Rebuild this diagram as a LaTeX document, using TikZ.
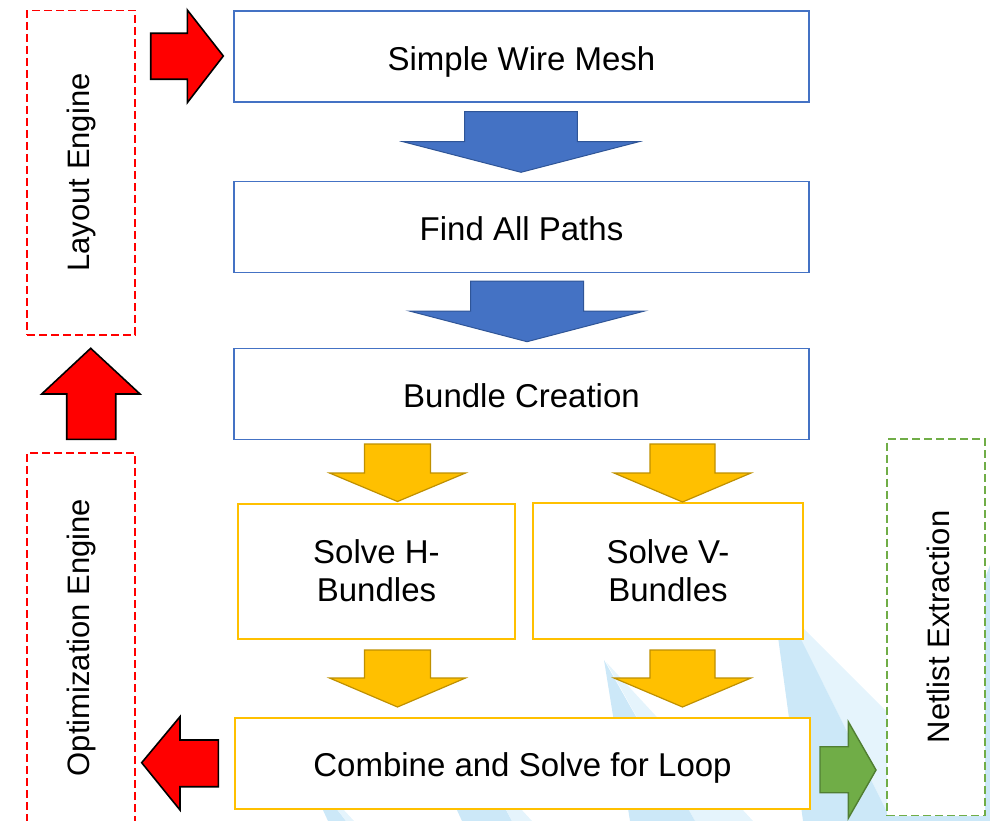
\documentclass[tikz,border=0pt]{standalone}
\usepackage{fontspec}
\setmainfont{Liberation Sans}

\definecolor{boxblue}{HTML}{4472C4}
\definecolor{blueedge}{HTML}{2F5597}
\definecolor{gold}{HTML}{FFC000}
\definecolor{goldedge}{HTML}{BF9000}
\definecolor{leaf}{HTML}{70AD47}
\definecolor{leafedge}{HTML}{507E32}
\definecolor{skydeep}{HTML}{CCE8F8}
\definecolor{skypale}{HTML}{E5F4FC}

% block arrow pointing down: style, centre x, top y, shaft half width,
% head half width, shaft length, head length
\newcommand\DownBlock[7]{%
  \path[#1] ({#2-#4},#3) -- ({#2+#4},#3) -- ({#2+#4},{#3+#6})
    -- ({#2+#5},{#3+#6}) -- (#2,{#3+#6+#7}) -- ({#2-#5},{#3+#6})
    -- ({#2-#4},{#3+#6}) -- cycle;}

\tikzset{
  mainfont/.style={font=\fontsize{33}{38}\selectfont},
  oneline/.style={text height=27.5pt, text depth=0pt},
  stagebox/.style={draw=boxblue, line width=1.6pt, fill=white, inner sep=0pt,
    minimum width=575pt, minimum height=91pt, align=center, mainfont, oneline},
  solvebox/.style={draw=gold, line width=2pt, fill=white, inner sep=0pt,
    align=center, mainfont},
  enginebox/.style={line width=1.6pt, dash pattern=on 8pt off 4pt,
    fill=white, inner sep=0pt},
  sidelabel/.style={font=\fontsize{31}{36}\selectfont, rotate=90, inner sep=0pt},
  bluearrow/.style={fill=boxblue, draw=blueedge, line width=1pt},
  goldarrow/.style={fill=gold, draw=goldedge, line width=1.2pt},
  redarrow/.style={fill=red, draw=black, line width=1.6pt},
  greenarrow/.style={fill=leaf, draw=leafedge, line width=1.4pt},
}

\begin{document}
\begin{tikzpicture}[x=1pt, y=-1pt]
\useasboundingbox (0,0) rectangle (990,821);

% pale light rays in the lower right
\fill[skydeep] (322,808) -- (336,808) -- (346,821) -- (328,821) -- cycle;
\fill[skypale] (336,808) -- (342,808) -- (354,821) -- (346,821) -- cycle;
\fill[skydeep] (456,808) -- (505,808) -- (512,821) -- (462,821) -- cycle;
\fill[skypale] (505,808) -- (520,808) -- (532,821) -- (512,821) -- cycle;
\fill[skypale] (606,662) -- (753,821) -- (695,821) -- cycle;
\fill[skydeep] (604,660) -- (695,821) -- (630,821) -- cycle;
\fill[skypale] (800,625) -- (887,712) -- (887,812) -- (800,637) -- cycle;
\fill[skydeep] (778,637) -- (800,637) -- (887,812) -- (990,812)
  -- (990,821) -- (803,821) -- cycle;
\fill[skydeep] (985,578) -- (990,565) -- (990,821) -- (985,821) -- cycle;

% engine panels
\node[enginebox, draw=red, minimum width=108pt, minimum height=324.5pt]
  (layout) at (81,172.75) {};
\node[sidelabel] (layoutlbl) at (81.5,172.5) {Layout Engine};
\node[enginebox, draw=red, minimum width=108pt, minimum height=371pt]
  (optim) at (81,638.5) {};
\node[sidelabel] (optimlbl) at (81.5,637.5) {Optimization Engine};
\node[enginebox, draw=leaf, minimum width=98pt, minimum height=376.5pt]
  (netlist) at (936,627.25) {};
\node[sidelabel] (netlistlbl) at (938,627) {Netlist Extraction};

% flow stages
\node[stagebox] (mesh) at (521.5,56.5) {Simple Wire Mesh};
\node[stagebox] (paths) at (521.5,227) {Find All Paths};
\node[stagebox] (bundle) at (521.5,394) {Bundle Creation};
\node[solvebox, minimum width=277pt, minimum height=135pt]
  (hsolve) at (376.5,571) {Solve H-\\Bundles};
\node[solvebox, minimum width=270pt, minimum height=136pt]
  (vsolve) at (668,571) {Solve V-\\Bundles};
\node[solvebox, oneline, minimum width=575pt, minimum height=91pt]
  (combine) at (522.5,763) {Combine and Solve for Loop};

% block arrows between the stages
\DownBlock{bluearrow}{521}{111.7}{56.4}{118}{30}{30.6}
\DownBlock{bluearrow}{527}{281}{56.5}{117.7}{30}{30.7}
\DownBlock{goldarrow}{397.5}{444}{33}{68}{29}{28.5}
\DownBlock{goldarrow}{682.5}{444}{32.5}{68.5}{29}{29}
\DownBlock{goldarrow}{397.5}{650}{33}{68}{28}{29}
\DownBlock{goldarrow}{682.5}{650}{32.5}{68.5}{28}{29}

% engine feedback arrows
\path[redarrow] (150.7,33.3) -- (187.3,33.3) -- (187.3,10) -- (223.3,56)
  -- (187.3,102.7) -- (187.3,79.3) -- (150.7,79.3) -- cycle;
\path[redarrow] (90.7,348.3) -- (140,394) -- (115.7,394) -- (115.7,439.3)
  -- (66.7,439.3) -- (66.7,394) -- (41.7,394) -- cycle;
\path[redarrow] (141.7,762.7) -- (180,716.7) -- (180,740) -- (218.3,740)
  -- (218.3,786.7) -- (180,786.7) -- (180,810) -- cycle;
\path[greenarrow] (820,746.7) -- (848.3,746.7) -- (848.3,721.7) -- (876,770)
  -- (848.3,818.3) -- (848.3,792.7) -- (820,792.7) -- cycle;
\end{tikzpicture}
\end{document}
